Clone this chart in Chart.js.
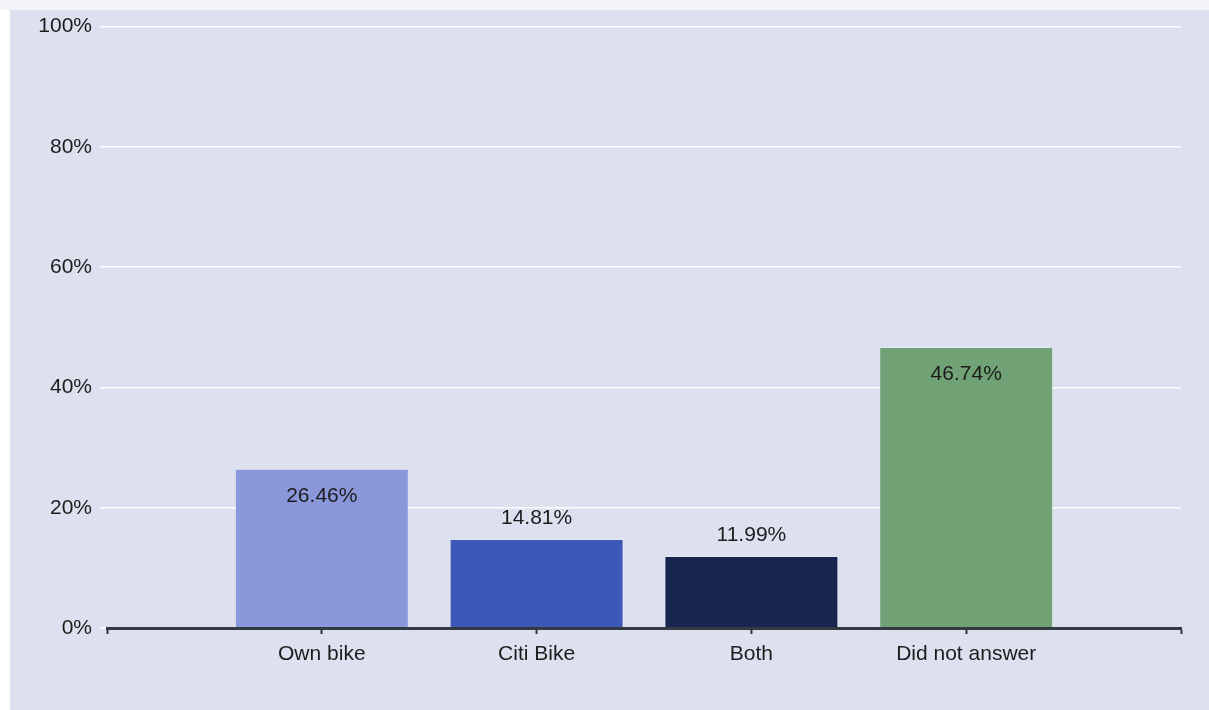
<!DOCTYPE html>
<html>
<head>
<meta charset="utf-8">
<script src="https://cdn.jsdelivr.net/npm/chart.js@4.4.1/dist/chart.umd.min.js"></script>
<style>
  body { margin: 0; background: #ffffff; }
  .topstrip { position: absolute; left: 0; top: 0; width: 1209px; height: 10px; background: #f4f5fa; }
  .panel { position: absolute; left: 10px; top: 10px; width: 1199px; height: 700px; background: #dde1ef; }
  #chart { position: absolute; left: 0; top: -4px; }
</style>
</head>
<body>
<div class="topstrip"></div>
<div class="panel"><canvas id="chart" width="1199" height="704"></canvas></div>
<script>
// empty slots at both ends keep the bars at 1/5 .. 4/5 of the axis
const categories = ["", "Own bike", "Citi Bike", "Both", "Did not answer", ""];
const shares = [null, 26.46, 14.81, 11.99, 46.74, null];
const barColors = ["#8a97db", "#8a97db", "#3c58b8", "#18254f", "#71a276", "#71a276"];
const yTicks = [0, 20, 40, 60, 80, 100];

const FONT = "'Liberation Sans', Arial, sans-serif";

const valueLabels = {
  id: "valueLabels",
  afterDatasetsDraw(chart) {
    const ctx = chart.ctx;
    const meta = chart.getDatasetMeta(0);
    ctx.save();
    ctx.font = "21px " + FONT;
    ctx.fillStyle = "#1c1c1c";
    ctx.textAlign = "center";
    ctx.textBaseline = "middle";
    meta.data.forEach((bar, i) => {
      const v = shares[i];
      if (v == null) return;
      const txt = v.toFixed(2) + "%";
      // tall bars get the label inside, short ones above
      const y = v > 20 ? bar.y + 27 : bar.y - 21;
      ctx.fillText(txt, bar.x, y);
    });
    ctx.restore();
  }
};

const chart = new Chart(document.getElementById("chart"), {
  type: "bar",
  data: {
    labels: categories,
    datasets: [{
      data: shares,
      backgroundColor: barColors,
      borderColor: "rgba(255,255,255,0.25)",
      borderWidth: 1,
      categoryPercentage: 1,
      barPercentage: 0.81
    }]
  },
  options: {
    responsive: false,
    animation: false,
    layout: { padding: { top: 12, right: 28, left: 0, bottom: 0 } },
    plugins: {
      legend: { display: false },
      tooltip: { enabled: false }
    },
    scales: {
      x: {
        offset: false,
        grid: {
          offset: false,
          drawOnChartArea: false,
          drawTicks: true,
          tickLength: 6,
          tickWidth: 2,
          tickColor: "#2f353c"
        },
        border: { display: true, color: "#343a41", width: 3, z: 1 },
        ticks: {
          autoSkip: false,
          maxRotation: 0,
          padding: 8,
          color: "#1c1c1c",
          font: { family: FONT, size: 21 }
        },
        afterFit(scale) { scale.height = 82; }
      },
      y: {
        min: 0,
        max: 100,
        afterBuildTicks(scale) { scale.ticks = yTicks.map(v => ({ value: v })); },
        grid: {
          color: "rgba(255,255,255,0.95)",
          lineWidth: 1.5,
          drawTicks: true,
          tickLength: 7,
          tickColor: "rgba(255,255,255,0.95)"
        },
        border: { display: false },
        ticks: {
          padding: 8,
          color: "#1c1c1c",
          font: { family: FONT, size: 21 },
          callback: v => v + "%"
        },
        afterFit(scale) { scale.width = 97; }
      }
    }
  },
  plugins: [valueLabels]
});
</script>
</body>
</html>
